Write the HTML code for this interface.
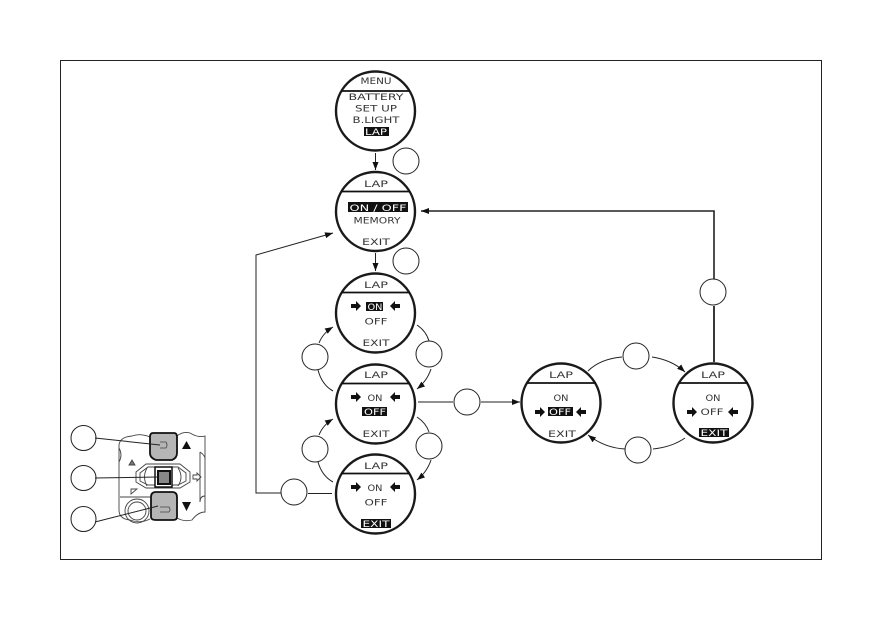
<!DOCTYPE html>
<html><head><meta charset="utf-8">
<style>html,body{margin:0;padding:0;background:#fff;width:882px;height:636px;overflow:hidden}
svg{display:block}
text{font-family:"DejaVu Sans","Liberation Sans",sans-serif;font-size:9px;fill:#333;text-anchor:middle}
text.w{fill:#fff}
.d{fill:#fff;stroke:#1a1a1a;stroke-width:2.400}
.c{fill:#fff;stroke:#222;stroke-width:1}
.l{fill:none;stroke:#222;stroke-width:1}
</style></head><body>
<svg width="882" height="636" viewBox="0 0 882 636" xmlns="http://www.w3.org/2000/svg">
<defs>
<marker id="a" markerWidth="9" markerHeight="7" refX="8" refY="3.500" orient="auto" markerUnits="userSpaceOnUse"><path d="M0 .5L8 3.500L0 6.500Z" fill="#111"/></marker>
<path id="ar" d="M-5-2H0V-5L5 0L0 5V2H-5Z" fill="#111"/>
<path id="al" d="M5-2H0V-5L-5 0L0 5V2H5Z" fill="#111"/>
</defs>
<rect x="60.500" y="60.500" width="761" height="499" fill="#fff" stroke="#222" stroke-width="1"/>

<!-- connectors -->
<g class="l">
<path d="M375.500 153V170" marker-end="url(#a)"/>
<path d="M375.500 253V271" marker-end="url(#a)"/>
<path d="M281 493H256V255L333 233" marker-end="url(#a)"/>
<path d="M308 493.500H332"/>
<path d="M418 402H453"/>
<path d="M481 402H520" marker-end="url(#a)"/>
<path d="M714 362V306" stroke-width="1.800"/>
<path d="M714 279V211H421" stroke-width="1.600" marker-end="url(#a)"/>
<path d="M417 325Q426 331 429 341"/>
<path d="M431 369Q427 381 417 389" marker-end="url(#a)"/>
<path d="M319 343Q323 333 333 327" marker-end="url(#a)"/>
<path d="M318 370Q322 385 333 391"/>
<path d="M417 417Q426 423 429 432"/>
<path d="M431 460Q427 472 417 480" marker-end="url(#a)"/>
<path d="M319 435Q323 425 333 419" marker-end="url(#a)"/>
<path d="M318 462Q322 476 333 482"/>
<path d="M588 371Q600 359 622 357"/>
<path d="M652 357Q672 360 685 372" marker-end="url(#a)"/>
<path d="M685 438Q672 447 653 449"/>
<path d="M625 449Q605 448 588 435" marker-end="url(#a)"/>
</g>

<!-- small callouts -->
<g class="c">
<circle cx="406" cy="161" r="13"/><circle cx="406" cy="261" r="13"/>
<circle cx="429" cy="354" r="13"/><circle cx="315" cy="357" r="13"/>
<circle cx="429" cy="446" r="13"/><circle cx="315" cy="449" r="13"/>
<circle cx="294" cy="492" r="13"/><circle cx="467" cy="402" r="13"/>
<circle cx="636" cy="356" r="13"/><circle cx="638" cy="450" r="13"/>
<circle cx="713" cy="292" r="13"/>
</g>

<!-- display 1 -->
<circle class="d" cx="375.500" cy="111" r="39.500"/>
<path d="M341 91H410" stroke="#111" stroke-width="1.800"/>
<text x="376" y="84" textLength="31" lengthAdjust="spacingAndGlyphs">MENU</text>
<text x="376" y="100" textLength="55" lengthAdjust="spacingAndGlyphs">BATTERY</text>
<text x="376" y="111.500" textLength="42" lengthAdjust="spacingAndGlyphs">SET UP</text>
<text x="376" y="123" textLength="47" lengthAdjust="spacingAndGlyphs">B.LIGHT</text>
<rect x="364" y="127" width="25" height="9" fill="#111"/>
<text class="w" x="376" y="135" textLength="22" lengthAdjust="spacingAndGlyphs">LAP</text>

<!-- display 2 -->
<circle class="d" cx="375.500" cy="211.500" r="39.500"/>
<path d="M341 191.500H410" stroke="#111" stroke-width="1.800"/>
<text x="376" y="187" textLength="24" lengthAdjust="spacingAndGlyphs">LAP</text>
<rect x="348" y="202" width="60" height="10" fill="#111"/>
<text class="w" x="378" y="211" textLength="57" lengthAdjust="spacingAndGlyphs">ON / OFF</text>
<text x="377" y="223.500" textLength="47" lengthAdjust="spacingAndGlyphs">MEMORY</text>
<text x="376" y="245" textLength="28" lengthAdjust="spacingAndGlyphs">EXIT</text>

<!-- display 3 -->
<circle class="d" cx="375.500" cy="313" r="39.500"/>
<path d="M341 292.500H410" stroke="#111" stroke-width="1.800"/>
<text x="376" y="288" textLength="24" lengthAdjust="spacingAndGlyphs">LAP</text>
<use href="#ar" x="356" y="306"/><use href="#al" x="395" y="306"/>
<rect x="366" y="302" width="17" height="9" fill="#111"/>
<text class="w" x="375" y="310" textLength="15" lengthAdjust="spacingAndGlyphs">ON</text>
<text x="376" y="324.500" textLength="23" lengthAdjust="spacingAndGlyphs">OFF</text>
<text x="376" y="346" textLength="27" lengthAdjust="spacingAndGlyphs">EXIT</text>

<!-- display 4 -->
<circle class="d" cx="375.500" cy="404" r="39.500"/>
<path d="M341 383.500H410" stroke="#111" stroke-width="1.800"/>
<text x="376" y="378" textLength="24" lengthAdjust="spacingAndGlyphs">LAP</text>
<use href="#ar" x="356" y="397"/><use href="#al" x="395" y="397"/>
<text x="375" y="401" textLength="15" lengthAdjust="spacingAndGlyphs">ON</text>
<rect x="362" y="407" width="25" height="9" fill="#111"/>
<text class="w" x="375" y="415" textLength="22" lengthAdjust="spacingAndGlyphs">OFF</text>
<text x="376" y="437" textLength="27" lengthAdjust="spacingAndGlyphs">EXIT</text>

<!-- display 5 -->
<circle class="d" cx="375.500" cy="494" r="39.500"/>
<path d="M341 473.500H410" stroke="#111" stroke-width="1.800"/>
<text x="376" y="469" textLength="24" lengthAdjust="spacingAndGlyphs">LAP</text>
<use href="#ar" x="356" y="487"/><use href="#al" x="395" y="487"/>
<text x="375" y="491" textLength="15" lengthAdjust="spacingAndGlyphs">ON</text>
<text x="376" y="505.500" textLength="23" lengthAdjust="spacingAndGlyphs">OFF</text>
<rect x="361" y="519" width="30" height="9" fill="#111"/>
<text class="w" x="376" y="527" textLength="27" lengthAdjust="spacingAndGlyphs">EXIT</text>

<!-- display 6 -->
<circle class="d" cx="561" cy="403" r="39.500"/>
<path d="M527 383H596" stroke="#111" stroke-width="1.800"/>
<text x="561" y="378" textLength="24" lengthAdjust="spacingAndGlyphs">LAP</text>
<text x="561" y="401" textLength="15" lengthAdjust="spacingAndGlyphs">ON</text>
<use href="#ar" x="540" y="412"/><use href="#al" x="581" y="412"/>
<rect x="548" y="407" width="25" height="9" fill="#111"/>
<text class="w" x="560" y="415" textLength="22" lengthAdjust="spacingAndGlyphs">OFF</text>
<text x="562" y="437" textLength="28" lengthAdjust="spacingAndGlyphs">EXIT</text>

<!-- display 7 -->
<circle class="d" cx="713" cy="403" r="39.500"/>
<path d="M679 383H748" stroke="#111" stroke-width="1.800"/>
<text x="713" y="378" textLength="24" lengthAdjust="spacingAndGlyphs">LAP</text>
<text x="713" y="401" textLength="15" lengthAdjust="spacingAndGlyphs">ON</text>
<use href="#ar" x="692" y="412"/><use href="#al" x="733" y="412"/>
<text x="712" y="415" textLength="23" lengthAdjust="spacingAndGlyphs">OFF</text>
<rect x="699" y="428" width="30" height="9" fill="#111"/>
<text class="w" x="714" y="436" textLength="27" lengthAdjust="spacingAndGlyphs">EXIT</text>

<!-- handlebar control -->
<g fill="none" stroke="#444" stroke-width=".9">
<path d="M150 437Q140 433 132 436Q120 437 119 445V510Q119 519 130 520Q140 524 150 519"/>
<path d="M119 448Q123 455 119 462"/>
<path d="M120 497H150"/>
<path d="M177 436Q183 431 190 433Q198 438 205 436V512Q198 512 192 520Q184 522 177 518"/>
<path d="M200 452Q206 456 205 460M205 496Q200 496 200 502"/>
<path d="M200 452V502"/>
<circle cx="137" cy="511" r="12"/>
<circle cx="137" cy="511" r="9"/>
<path d="M131 489h6l-6 5z"/>
<path d="M136 472L146 464H180L190 472V482L180 488H146L136 482Z"/>
<path d="M140 473L148 467H178L186 473V481L178 485H148L140 481Z"/>
<path d="M147 468Q142 477 147 486M178 468Q184 477 178 486"/>
<path d="M193 475h4v-2l4 4l-4 4v-2h-4z"/>
<path d="M129 465l3-5l3 5z" fill="#777"/>
</g>
<path d="M155 467H172V487H155Z" fill="#fff" stroke="#111" stroke-width="1.500"/>
<path d="M158 471H170V484H158Z" fill="#888" stroke="#111" stroke-width="2"/>
<path d="M153 433H174Q177 433 177 437V453Q177 458 172 460H156Q150 458 150 453V437Q150 433 153 433Z" fill="#b5b5b5" stroke="#111" stroke-width="1.800"/>
<path d="M151 517V497Q151 492 156 492H172Q177 492 177 497V517Q177 520 173 520H156Q151 520 151 517Z" fill="#b5b5b5" stroke="#111" stroke-width="1.800"/>
<path d="M160 442h6q2 3 0 6h-6M160 507h9q2 3 0 5h-9" fill="none" stroke="#444" stroke-width=".8"/>
<path d="M182 449L186.500 441L191 449Z" fill="#111"/>
<path d="M182 502L186.500 511L191 502Z" fill="#111"/>

<g class="c">
<circle cx="83.500" cy="438" r="12.500"/>
<circle cx="83.500" cy="478" r="12.500"/>
<circle cx="83.500" cy="519" r="12.500"/>
</g>
<g class="l">
<path d="M95 438L160 445"/>
<path d="M95 478L158 477"/>
<path d="M95 522L158 506"/>
</g>
</svg>
</body></html>
